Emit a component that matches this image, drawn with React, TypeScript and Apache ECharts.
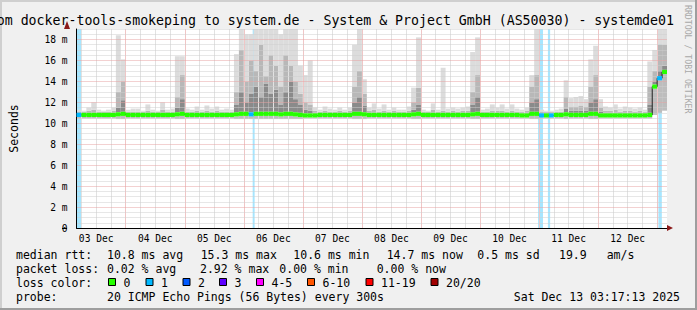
import React, { useEffect, useRef } from "react";
import * as echarts from "echarts";

// ---- time frame: hours after 03 Dec 00:00 ----
const viewStartHour = 4;
const viewEndHour = 244;
const binHours = 2;
const dayLabels = ["03 Dec", "04 Dec", "05 Dec", "06 Dec", "07 Dec", "08 Dec", "09 Dec", "10 Dec", "11 Dec", "12 Dec"];

// ---- per 2-hour bin values (ms) ----
const medianRtt = [
  10.8, 10.8, 10.8, 10.8, 10.8, 10.8, 10.8, 10.8, 10.85, 10.9,
  10.8, 10.8, 10.8, 10.8, 10.8, 10.8, 10.8, 10.8, 10.8, 10.8,
  10.85, 10.9, 10.8, 10.8, 10.8, 10.8, 10.8, 10.8, 10.8, 10.8,
  10.8, 10.8, 10.85, 10.9, 10.9, 10.85, 10.9, 10.9, 10.9, 10.9,
  10.9, 10.85, 10.9, 10.9, 10.85, 10.8, 10.75, 10.75, 10.75, 10.8,
  10.8, 10.8, 10.8, 10.8, 10.8, 10.8, 10.9, 10.9, 10.85, 10.8,
  10.8, 10.8, 10.8, 10.8, 10.8, 10.8, 10.8, 10.8, 10.85, 10.9,
  10.8, 10.8, 10.8, 10.8, 10.8, 10.8, 10.8, 10.8, 10.8, 10.8,
  10.85, 10.9, 10.8, 10.8, 10.8, 10.8, 10.8, 10.8, 10.8, 10.8,
  10.75, 10.75, 10.9, 10.9, 10.75, 10.75, 10.75, 10.8, 10.8, 10.85,
  10.8, 10.8, 10.8, 10.8, 10.9, 10.9, 10.75, 10.75, 10.75, 10.75,
  10.75, 10.75, 10.75, 10.75, 10.75, 10.75, 10.8, 13.5, 14.3, 14.9,
];
const minRtt = [
  10.45, 10.45, 10.45, 10.45, 10.45, 10.45, 10.45, 10.45, 10.4, 10.4,
  10.45, 10.45, 10.45, 10.45, 10.45, 10.45, 10.45, 10.45, 10.45, 10.45,
  10.4, 10.4, 10.45, 10.45, 10.45, 10.45, 10.45, 10.45, 10.45, 10.45,
  10.45, 10.45, 10.4, 10.4, 10.4, 10.4, 10.4, 10.4, 10.4, 10.4,
  10.4, 10.4, 10.4, 10.4, 10.4, 10.4, 10.45, 10.45, 10.45, 10.45,
  10.45, 10.45, 10.45, 10.45, 10.45, 10.45, 10.4, 10.4, 10.4, 10.45,
  10.45, 10.45, 10.45, 10.45, 10.45, 10.45, 10.45, 10.45, 10.4, 10.4,
  10.45, 10.45, 10.45, 10.45, 10.45, 10.45, 10.45, 10.45, 10.45, 10.45,
  10.4, 10.4, 10.45, 10.45, 10.45, 10.45, 10.45, 10.45, 10.45, 10.45,
  10.45, 10.45, 10.4, 10.4, 10.45, 10.45, 10.45, 10.45, 10.45, 10.4,
  10.45, 10.45, 10.45, 10.45, 10.4, 10.4, 10.45, 10.45, 10.45, 10.45,
  10.45, 10.45, 10.45, 10.45, 10.45, 10.45, 10.45, 10.8, 11.0, 11.2,
];
const innerSmoke = [
  11.0, 11.0, 11.0, 11.0, 11.0, 11.0, 11.0, 11.0, 11.5, 12.2,
  11.0, 11.0, 11.0, 11.0, 11.0, 11.0, 11.0, 11.0, 11.0, 11.0,
  11.5, 12.3, 11.0, 11.0, 11.0, 11.0, 11.0, 11.0, 11.0, 11.0,
  11.0, 11.0, 11.8, 13.0, 12.0, 12.8, 13.5, 12.5, 13.8, 12.8,
  13.2, 11.8, 13.0, 14.0, 12.3, 11.8, 11.3, 11.2, 11.0, 11.0,
  11.0, 11.0, 11.0, 11.0, 11.0, 11.0, 12.0, 12.5, 11.7, 11.0,
  11.0, 11.0, 11.0, 11.0, 11.0, 11.0, 11.0, 11.0, 11.3, 11.8,
  11.0, 11.0, 11.0, 11.0, 11.0, 11.0, 11.0, 11.0, 11.0, 11.0,
  11.8, 12.5, 11.0, 11.0, 11.0, 11.0, 11.0, 11.0, 11.0, 11.0,
  11.0, 11.0, 12.0, 12.3, 11.0, 11.0, 11.0, 11.0, 11.0, 11.4,
  11.2, 11.2, 11.2, 11.2, 12.0, 12.3, 11.1, 11.0, 11.0, 11.0,
  11.0, 11.0, 11.0, 11.0, 11.0, 11.0, 11.8, 14.0, 15.0, 15.5,
];
const middleSmoke = [
  11.1, 11.1, 11.2, 11.3, 11.1, 11.1, 11.1, 11.2, 13.0, 14.0,
  11.1, 11.1, 11.1, 11.1, 11.2, 11.1, 11.1, 11.3, 11.1, 11.1,
  12.5, 14.6, 11.1, 11.1, 11.2, 11.1, 11.2, 11.1, 11.2, 11.1,
  11.1, 11.1, 13.0, 17.0, 14.0, 16.0, 15.0, 17.5, 14.5, 16.5,
  15.5, 13.5, 16.5, 15.5, 14.0, 12.8, 12.0, 11.8, 11.2, 11.1,
  11.2, 11.1, 11.1, 11.2, 11.1, 11.2, 13.5, 15.0, 12.8, 11.2,
  11.3, 11.1, 11.2, 11.1, 11.2, 11.1, 11.1, 11.2, 12.0, 13.4,
  11.1, 11.1, 11.3, 11.1, 11.2, 11.1, 11.2, 11.1, 11.2, 11.2,
  13.0, 14.6, 11.1, 11.1, 11.2, 11.2, 11.2, 11.1, 11.2, 11.1,
  11.1, 11.2, 13.5, 14.6, 11.1, 11.1, 11.1, 11.1, 11.1, 12.5,
  11.6, 11.6, 11.7, 11.6, 13.5, 14.6, 11.5, 11.2, 11.2, 11.3,
  11.1, 11.2, 11.2, 11.1, 11.2, 11.1, 13.5, 15.0, 17.5, 17.5,
];
const maxRtt = [
  11.3, 11.2, 11.5, 12.0, 11.3, 11.2, 11.3, 11.5, 18.4, 16.1,
  11.3, 11.4, 11.4, 11.2, 11.8, 11.3, 11.2, 12.0, 11.3, 11.4,
  16.4, 16.4, 11.4, 11.3, 11.6, 11.3, 11.7, 11.4, 11.6, 11.3,
  11.4, 11.3, 16.6, 19.2, 18.5, 18.5, 19.2, 19.2, 19.2, 19.2,
  19.2, 18.5, 19.2, 19.2, 19.2, 15.5, 14.6, 16.0, 11.5, 11.3,
  11.6, 11.4, 11.3, 11.5, 11.3, 11.5, 17.5, 19.2, 14.2, 11.5,
  11.9, 11.4, 11.8, 11.3, 11.5, 11.3, 11.3, 11.6, 13.4, 18.2,
  11.3, 11.2, 11.9, 11.3, 15.3, 11.4, 11.5, 11.4, 11.5, 11.6,
  16.8, 18.2, 11.3, 11.4, 11.8, 11.5, 11.8, 11.4, 11.8, 11.4,
  11.3, 11.5, 14.6, 19.2, 11.3, 11.2, 11.2, 11.3, 11.4, 14.1,
  12.4, 12.5, 12.6, 12.3, 16.1, 17.4, 12.3, 11.6, 11.5, 11.8,
  11.4, 11.6, 11.5, 11.4, 11.5, 11.3, 15.9, 17.0, 19.2, 19.2,
];
// bins whose median carries packet loss, and how many of 20 pings were lost
const lossBins = [0, 35, 94, 96, 118];
const lossBinCounts = [1, 1, 1, 1, 1];
// loss periods (hours after 03 Dec 00:00)
const lossStart = [4.0, 75.6, 191.6, 195.6, 240.5];
const lossEnd = [6.2, 76.4, 193.6, 196.5, 241.9];
const lossCount = [1, 1, 1, 1, 1];

const lossLabels = ["0", "1", "2", "3", "4-5", "6-10", "11-19", "20/20"];
const lossColors = ["#26ff00", "#00b8ff", "#0059ff", "#5e00ff", "#ff00ff", "#ff5500", "#ff0000", "#a10000"];
const lossUpper = [0, 1, 2, 3, 5, 10, 19, 20];

const titleText = "om docker-tools-smokeping to system.de - System & Project GmbH (AS50030) - systemde01";
const rowLabels = ["median rtt:", "packet loss:", "loss color:", "probe:"];
const medianStats = ["10.8 ms avg", "15.3 ms max", "10.6 ms min", "14.7 ms now", "0.5 ms sd", "19.9", "am/s"];
const lossStats = ["0.02 % avg", "2.92 % max", "0.00 % min", "0.00 % now"];
const probeText = "20 ICMP Echo Pings (56 Bytes) every 300s";
const dateText = "Sat Dec 13 03:17:13 2025";
const watermark = "RRDTOOL / TOBI OETIKER";

// ---- layout ----
const MONO = '"DejaVu Sans Mono", monospace';
const medianStatX = [107, 200.7, 293.3, 386.7, 477.3, 559, 606.7];
const lossStatX = [107, 200, 279.3, 376.7];
const lossBoxX = [108.5, 146, 183, 219.5, 256.5, 307.5, 366, 431];
const rowY = [254.8, 268.8, 282.6, 296.5];
const BAND = 0.2;
const Y_MAX = 19;
const GRID_GREY = "#cfcfcf";
const GRID_RED = "#e7a2a2";
const VGRID_GREY = "#e2e2e2";
const VGRID_RED = "#f0c6c6";
const NONE = "rgba(0,0,0,0)";
// time grid axis counts hours from the view start in 2 h steps; lines at 06, 12, 18 h, red at midnight
const timeGridColors = [NONE, VGRID_GREY, NONE, NONE, VGRID_GREY, NONE, NONE, VGRID_GREY, NONE, NONE, VGRID_RED, NONE];

function lossColorFor(count: number) {
  for (let k = 0; k < lossUpper.length; k++) if (count <= lossUpper[k]) return lossColors[k];
  return lossColors[lossColors.length - 1];
}

export default function App() {
  const ref = useRef<HTMLDivElement>(null);
  useEffect(() => {
    if (!ref.current) return;
    const chart = echarts.init(ref.current, undefined, { renderer: "svg" });

    const categories = medianRtt.map((_, i) => String(viewStartHour + i * binHours));
    const base: number[] = [], below: number[] = [], band: any[] = [], dark: number[] = [], mid: number[] = [], light: number[] = [];
    medianRtt.forEach((m, i) => {
      const t1 = m - BAND, t2 = m + BAND;
      const t3 = Math.max(innerSmoke[i], t2);
      const t4 = Math.max(middleSmoke[i], t3);
      const t5 = Math.max(maxRtt[i], t4);
      const li = lossBins.indexOf(i);
      const col = lossColorFor(li >= 0 ? lossBinCounts[li] : 0);
      base.push(minRtt[i]);
      below.push(Math.max(0, t1 - minRtt[i]));
      band.push({ value: t2 - t1, itemStyle: { color: col } });
      dark.push(t3 - t2);
      mid.push(t4 - t3);
      light.push(t5 - t4);
    });

    const barCommon = { type: "bar", stack: "rtt", barCategoryGap: "0%", clip: true, silent: true, xAxisIndex: 0, yAxisIndex: 0 };

    const texts: any[] = [];
    const txt = (text: string, x: number, y: number, size: number, extra: any = {}) =>
      texts.push({ type: "text", silent: true, z: 100, x, y,
        style: { text, font: `${size}px ${MONO}`, fill: extra.fill || "#000", align: extra.align || "left", verticalAlign: "middle" } });

    txt(titleText, 674, 20, 13.24, { align: "right" });
    rowLabels.forEach((t, r) => txt(t, 16, rowY[r], 11.5));
    medianStats.forEach((t, k) => txt(t, medianStatX[k], rowY[0], 11.5));
    lossStats.forEach((t, k) => txt(t, lossStatX[k], rowY[1], 11.5));
    lossLabels.forEach((t, k) => {
      texts.push({ type: "rect", silent: true, z: 100, shape: { x: lossBoxX[k], y: 278.5, width: 7, height: 7 },
        style: { fill: lossColors[k], stroke: "#000", lineWidth: 1 } });
      txt(t, lossBoxX[k] + 15, rowY[2], 11.5);
    });
    txt(probeText, 107, rowY[3], 11.5);
    txt(dateText, 680, rowY[3], 11.5, { align: "right" });
    texts.push({ type: "text", silent: true, z: 100, x: 688, y: 5, rotation: -Math.PI / 2,
      style: { text: watermark, font: `8.2px ${MONO}`, fill: "#a8a8a8", align: "left", verticalAlign: "middle" } });
    // frame shading
    texts.push({ type: "rect", silent: true, z: 90, shape: { x: 0, y: 0, width: 697, height: 2 }, style: { fill: "#cfcfcf" } });
    texts.push({ type: "rect", silent: true, z: 90, shape: { x: 0, y: 0, width: 2, height: 310 }, style: { fill: "#cfcfcf" } });
    texts.push({ type: "rect", silent: true, z: 91, shape: { x: 0, y: 308, width: 697, height: 2 }, style: { fill: "#9e9e9e" } });
    texts.push({ type: "rect", silent: true, z: 91, shape: { x: 695, y: 0, width: 2, height: 310 }, style: { fill: "#9e9e9e" } });
    // axis arrows and the short left stub of the time axis
    texts.push({ type: "rect", silent: true, z: 100, shape: { x: 62, y: 228, width: 5, height: 1 }, style: { fill: "#000" } });
    texts.push({ type: "polygon", silent: true, z: 100, shape: { points: [[64, 29], [70, 29], [67, 21]] }, style: { fill: "#8b1a1a" } });
    texts.push({ type: "polygon", silent: true, z: 100, shape: { points: [[667, 225], [667, 231], [673, 228]] }, style: { fill: "#8b1a1a" } });

    const option: any = {
      animation: false,
      backgroundColor: "#f0f0f0",
      grid: { left: 67, top: 29, width: 600, height: 199, show: true, backgroundColor: "#ffffff", borderWidth: 0 },
      xAxis: [
        {
          type: "category", data: categories, boundaryGap: true, z: 4,
          axisLine: { show: true, lineStyle: { color: "#000", width: 1 } },
          axisTick: { show: false }, axisLabel: { show: false }, splitLine: { show: false },
        },
        {
          type: "value", min: viewStartHour, max: viewEndHour, position: "bottom",
          axisLine: { show: false }, axisTick: { show: false }, splitLine: { show: false },
          axisLabel: {
            customValues: dayLabels.map((_, i) => 12 + 24 * i),
            formatter: (v: number) => dayLabels[Math.round((v - 12) / 24)] || "",
            margin: 5, fontFamily: MONO, fontSize: 9.6, color: "#000",
          },
        },
        {
          type: "value", min: 0, max: viewEndHour - viewStartHour, interval: binHours, position: "top", z: 3,
          axisLine: { show: false }, axisTick: { show: false }, axisLabel: { show: false },
          splitLine: { show: true, lineStyle: { color: timeGridColors, type: "solid", width: 1 } },
        },
      ],
      yAxis: {
        type: "value", min: 0, max: Y_MAX, interval: 0.5, z: 4,
        axisLine: { show: true, lineStyle: { color: "#000", width: 1 } },
        axisTick: { show: false },
        axisLabel: {
          formatter: (v: number) => (v % 2 === 0 ? (v === 0 ? "0" : `${v} m`) : ""),
          margin: 9, fontFamily: MONO, fontSize: 9.6, color: "#000",
        },
        splitLine: { show: true, lineStyle: { color: [GRID_RED, GRID_GREY, GRID_GREY, GRID_GREY], type: [1, 1], width: 1 } },
        name: "Seconds", nameLocation: "middle", nameGap: 56.5, nameRotate: 90,
        nameTextStyle: { fontFamily: MONO, fontSize: 11.5, color: "#000" },
      },
      graphic: texts,
      series: [
        { ...barCommon, name: "base", data: base, itemStyle: { color: NONE }, z: 2 },
        { ...barCommon, name: "below", data: below, itemStyle: { color: "#bdbdbd" }, z: 2 },
        { ...barCommon, name: "median", data: band, z: 6 },
        { ...barCommon, name: "dark", data: dark, itemStyle: { color: "#8a8a8a" }, z: 2 },
        { ...barCommon, name: "mid", data: mid, itemStyle: { color: "#b8b8b8" }, z: 2 },
        { ...barCommon, name: "light", data: light, itemStyle: { color: "#dcdcdc" }, z: 2 },
        {
          type: "line", name: "medianLine", data: medianRtt, step: "middle", xAxisIndex: 0, yAxisIndex: 0,
          showSymbol: false, symbol: "none", silent: true, z: 5,
          lineStyle: { color: "#202020", width: 1 },
        },
        {
          type: "line", name: "loss", data: [], xAxisIndex: 1, yAxisIndex: 0, silent: true, z: 2,
          markArea: {
            silent: true, z: 2,
            itemStyle: { opacity: 1 },
            data: lossStart.map((s, k) => [
              { xAxis: s, itemStyle: { color: echarts.color.modifyAlpha(lossColorFor(lossCount[k]), 0.35) } },
              { xAxis: lossEnd[k] },
            ]),
          },
        },
        {
          // anchors the time-grid axis so its split lines are laid out
          type: "line", name: "timeGridAnchor", xAxisIndex: 2, yAxisIndex: 0, silent: true, z: 1,
          data: [[0, 0], [viewEndHour - viewStartHour, 0]],
          showSymbol: false, symbol: "none", lineStyle: { opacity: 0, width: 0 },
        },
      ],
    };
    chart.setOption(option);
    return () => chart.dispose();
  }, []);
  return <div ref={ref} style={{ position: "absolute", left: 0, top: 0, width: 697, height: 310 }} />;
}
